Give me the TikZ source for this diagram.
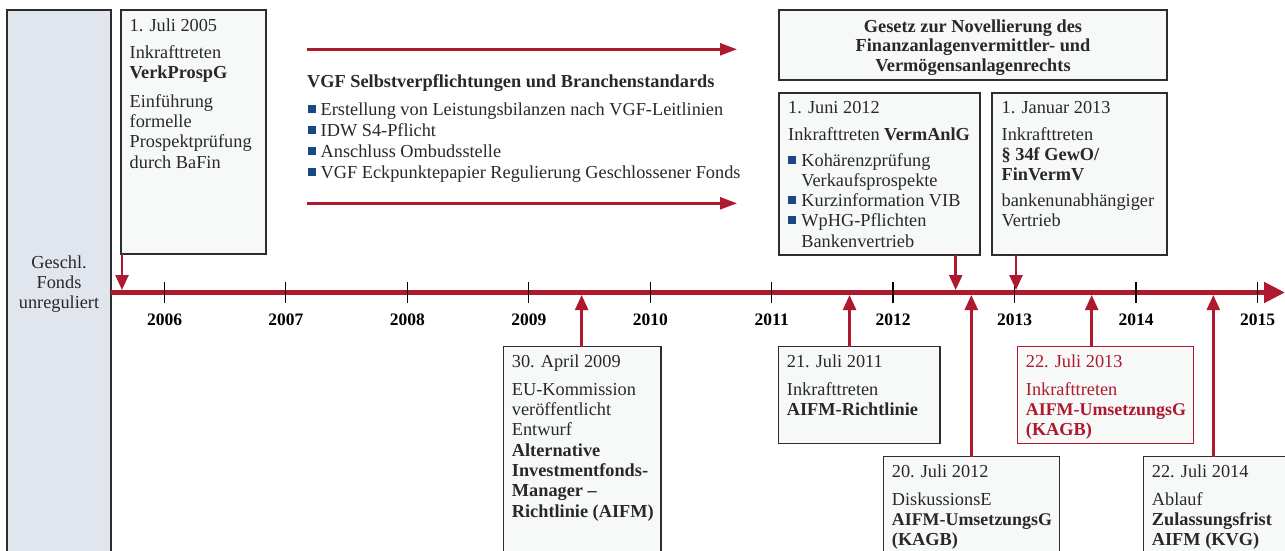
\documentclass[tikz,border=0pt]{standalone}
\usepackage{fontspec}
\setmainfont{Liberation Serif}
\usetikzlibrary{arrows.meta}
\definecolor{vred}{RGB}{175,25,45}
\definecolor{vblue}{RGB}{22,74,128}
\definecolor{graybg}{RGB}{225,229,238}
\definecolor{boxbg}{RGB}{247,249,249}
\definecolor{framecol}{RGB}{45,45,45}
\definecolor{ink}{RGB}{40,40,40}
\newcommand\bodyfont{\fontsize{18.3}{20.3}\selectfont}
\newcommand\yearfont{\fontsize{17.5}{20}\selectfont\bfseries}
\newcommand\fst{\rule{0pt}{15pt}}
\newcommand\bul{\textcolor{vblue}{\rule[2.5pt]{8pt}{8pt}}\hspace{5.2pt}}
\newcommand\bulsp{\hspace{13.2pt}}
\begin{document}
\begin{tikzpicture}[x=1pt,y=1pt,
  box/.style={draw=framecol, fill=boxbg, line width=1.3pt, rectangle, anchor=north west, inner sep=0pt, outer sep=0pt},
  txt/.style={anchor=north west, inner sep=0pt, align=left, font=\bodyfont, text=ink},
  varrow/.style={draw=vred, line width=2.5pt, -{Triangle[length=15pt,width=13pt]}},
  harrow/.style={draw=vred, line width=2.5pt, -{Triangle[length=17pt,width=12pt]}},
  tickline/.style={draw=black, line width=1.2pt},
  year/.style={anchor=base, inner sep=0pt, font=\yearfont, text=black}
]
\useasboundingbox (0,0) rectangle (1285,-551);
\clip (0,0) rectangle (1285,-551);

% left grey block
\node[box, fill=graybg, minimum width=104pt, minimum height=570pt] (unreg) at (7,-10) {};
\node[txt, anchor=north, align=center] (unregt) at (59,-253) {\fst Geschl.\\Fonds\\unreguliert};

% 2005 box
\node[box, minimum width=145pt, minimum height=244pt] (vp) at (121,-10) {};
\node[txt] (vpt) at (129.5,-16) {\fst 1. Juli 2005\\[7pt]Inkrafttreten\\\textbf{VerkProspG}\\[8pt]Einführung\\formelle\\Prospektprüfung\\durch BaFin};

% VGF middle block
\coordinate (h1s) at (307,-49.3);
\coordinate (h1e) at (737,-49.3);
\coordinate (h2s) at (307,-203.3);
\coordinate (h2e) at (737,-203.3);
\draw[harrow] (h1s) -- (h1e);
\node[txt] (vgf) at (307,-72) {\fst\textbf{VGF Selbstverpflichtungen und Branchenstandards}};
\node[txt] (vgfl) at (307.3,-100) {\fst\bul Erstellung von Leistungsbilanzen nach VGF-Leitlinien\\[0.7pt]\bul IDW S4-Pflicht\\[0.7pt]\bul Anschluss Ombudsstelle\\[0.7pt]\bul VGF Eckpunktepapier Regulierung Geschlossener Fonds};
\draw[harrow] (h2s) -- (h2e);

% Gesetz box
\node[box, minimum width=388pt, minimum height=70pt] (gesetz) at (779,-10) {};
\node[txt, anchor=north, align=center, font=\fontsize{18.3}{19.6}\selectfont\bfseries] (gesetzt) at (973,-17) {\fst Gesetz zur Novellierung des\\Finanzanlagenvermittler- und\\Vermögensanlagenrechts};

% VermAnlG box
\node[box, minimum width=201pt, minimum height=162pt] (verm) at (779,-93) {};
\node[txt] (vermt) at (788,-98) {\fst 1. Juni 2012\\[6.7pt]Inkrafttreten \textbf{VermAnlG}\\[5.5pt]\bul Kohärenzprüfung\\\bulsp Verkaufsprospekte\\\bul Kurzinformation VIB\\\bul WpHG-Pflichten\\\bulsp Bankenvertrieb};

% Januar 2013 box
\node[box, minimum width=175pt, minimum height=162pt] (jan) at (992,-93) {};
\node[txt] (jant) at (1001.5,-98) {\fst 1. Januar 2013\\[6.7pt]Inkrafttreten\\\textbf{§ 34f GewO/}\\\textbf{FinVermV}\\[5pt]bankenunabhängiger\\Vertrieb};

% bottom boxes
\node[box, minimum width=157.7pt, minimum height=220pt] (apr) at (503.3,-346.7) {};
\node[txt] (aprt) at (511.7,-352) {\fst 30. April 2009\\[7.7pt]EU-Kommission\\veröffentlicht\\Entwurf\\\textbf{Alternative}\\\textbf{Investmentfonds-}\\\textbf{Manager –}\\\textbf{Richtlinie (AIFM)}};

\node[box, minimum width=161.7pt, minimum height=97pt] (jul11) at (778.3,-346.7) {};
\node[txt] (jul11t) at (786.7,-352) {\fst 21. Juli 2011\\[7.7pt]Inkrafttreten\\\textbf{AIFM-Richtlinie}};

\node[box, minimum width=176pt, minimum height=110pt] (jul12) at (883.3,-456.7) {};
\node[txt] (jul12t) at (891.7,-462) {\fst 20. Juli 2012\\[7.7pt]DiskussionsE\\\textbf{\fontsize{17.9}{20.3}\selectfont AIFM-UmsetzungsG}\\\textbf{(KAGB)}};

\node[box, draw=vred, minimum width=176pt, minimum height=96.6pt] (jul13) at (1017.3,-346.7) {};
\node[txt, text=vred] (jul13t) at (1025.7,-352) {\fst 22. Juli 2013\\[7.7pt]Inkrafttreten\\\textbf{\fontsize{17.9}{20.3}\selectfont AIFM-UmsetzungsG}\\\textbf{(KAGB)}};

\node[box, minimum width=160pt, minimum height=110pt] (jul14) at (1143.3,-456.7) {};
\node[txt] (jul14t) at (1151.7,-462) {\fst 22. Juli 2014\\[7.7pt]Ablauf\\\textbf{Zulassungsfrist}\\\textbf{AIFM (KVG)}};

% timeline
\coordinate (tltop) at (0,-290);
\coordinate (tlbot) at (0,-295);
\coordinate (tlend) at (1285,-292.5);
\draw[draw=vred, line width=5pt, -{Triangle[length=21pt,width=20pt]}] (unreg.east |- tlend) -- (tlend);
\foreach \i in {0,...,9} {
  \draw[tickline] ({164.3+121.45*\i},-282.3) -- ({164.3+121.45*\i},-303.3);
}
\foreach \y [count=\i from 0] in {2006,...,2015} {
  \node[year] (y\y) at ({164.5+121.45*\i},-325) {\y};
}

% connectors
\coordinate (a1) at ([xshift=1pt]vp.south west);
\coordinate (a2) at ([xshift=-0.5pt]apr.north);
\coordinate (a3) at ([xshift=-9.6pt]jul11.north);
\coordinate (a4) at ([xshift=-24.3pt]verm.south east);
\coordinate (a5) at ([xshift=24pt]jan.south west);
\coordinate (a6) at (jul12.north);
\coordinate (a7) at ([xshift=-13.6pt]jul13.north);
\coordinate (a8) at ([xshift=70pt]jul14.north west);
\draw[varrow] (a1) -- (a1 |- tltop);
\draw[varrow] (a4) -- (a4 |- tltop);
\draw[varrow] (a5) -- (a5 |- tltop);
\draw[varrow] (a2) -- (a2 |- tlbot);
\draw[varrow] (a3) -- (a3 |- tlbot);
\draw[varrow] (a6) -- (a6 |- tlbot);
\draw[varrow] (a7) -- (a7 |- tlbot);
\draw[varrow] (a8) -- (a8 |- tlbot);
\end{tikzpicture}
\end{document}
